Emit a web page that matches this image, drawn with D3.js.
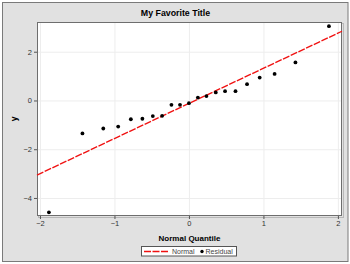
<!DOCTYPE html>
<html>
<head>
<meta charset="utf-8">
<script src="https://cdn.jsdelivr.net/npm/d3@7"></script>
<style>
  body { margin: 0; background: #fff; }
  svg { display: block; font-family: "Liberation Sans", Arial, sans-serif; }
</style>
</head>
<body>
<div id="main"></div>
<script>
// values
var quantiles = [-1.88, -1.43, -1.15, -0.95, -0.78, -0.625, -0.485, -0.36, -0.235, -0.12, 0,
                 0.12, 0.235, 0.36, 0.485, 0.625, 0.78, 0.95, 1.15, 1.43, 1.88];
var residuals = [-4.59, -1.35, -1.15, -1.07, -0.77, -0.75, -0.64, -0.63, -0.18, -0.18, -0.11,
                 0.12, 0.18, 0.33, 0.38, 0.38, 0.67, 0.94, 1.09, 1.56, 3.05];
var normalLine = [[-2.04, -3.06], [2.055, 2.84]];
var xTicks = [-2, -1, 0, 1, 2];
var yTicks = [-4, -2, 0, 2];

var width = 350, height = 264;
var plot = {left: 37, top: 22, right: 342, bottom: 216};

var svg = d3.select('#main').append('svg')
    .attr('width', width).attr('height', height);

// outer frame
svg.append('rect').attr('x', 2.5).attr('y', 2.5)
    .attr('width', 345.5).attr('height', 259)
    .attr('fill', '#e1e1e1').attr('stroke', '#7a7a7a');

var x = d3.scaleLinear().domain([-2.04, 2.055]).range([plot.left, plot.right]);
var y = d3.scaleLinear().domain([-4.74, 3.22]).range([plot.bottom, plot.top]);

// plot area with a soft shadow on the right and bottom
svg.append('rect')
    .attr('x', plot.left + 1.5).attr('y', plot.top + 1.5)
    .attr('width', plot.right - plot.left).attr('height', plot.bottom - plot.top)
    .attr('fill', 'none').attr('stroke', '#b8b8b8');
svg.append('rect')
    .attr('x', plot.left).attr('y', plot.top)
    .attr('width', plot.right - plot.left).attr('height', plot.bottom - plot.top)
    .attr('fill', '#fff');

// grid
svg.append('g').selectAll('line').data(xTicks).enter().append('line')
    .attr('x1', function (d) { return x(d) + 0.5; })
    .attr('x2', function (d) { return x(d) + 0.5; })
    .attr('y1', plot.top).attr('y2', plot.bottom)
    .attr('stroke', '#ededed');
svg.append('g').selectAll('line').data(yTicks).enter().append('line')
    .attr('y1', function (d) { return y(d) + 0.5; })
    .attr('y2', function (d) { return y(d) + 0.5; })
    .attr('x1', plot.left).attr('x2', plot.right)
    .attr('stroke', '#ededed');

svg.append('rect')
    .attr('x', plot.left + 0.5).attr('y', plot.top + 0.5)
    .attr('width', plot.right - plot.left - 1).attr('height', plot.bottom - plot.top - 1)
    .attr('fill', 'none').attr('stroke', '#6e6e6e');

// axes
var xAxis = d3.axisBottom(x).tickValues(xTicks).tickFormat(d3.format('d')).tickSize(3).tickPadding(2);
var yAxis = d3.axisLeft(y).tickValues(yTicks).tickFormat(d3.format('d')).tickSize(3).tickPadding(2);

var gx = svg.append('g')
    .attr('transform', 'translate(0,' + plot.bottom + ')')
    .call(xAxis);
var gy = svg.append('g')
    .attr('transform', 'translate(' + plot.left + ',0)')
    .call(yAxis);
[gx, gy].forEach(function (g) {
    g.select('.domain').remove();
    g.selectAll('.tick line').attr('stroke', '#555');
    g.selectAll('.tick text').attr('fill', '#333')
        .style('font-size', '7.5px').style('font-family', '"Liberation Sans", Arial, sans-serif');
});

// normal line
var lineGen = d3.line()
    .x(function (d) { return x(d[0]); })
    .y(function (d) { return y(d[1]); });
svg.append('path').datum(normalLine)
    .attr('d', lineGen)
    .attr('fill', 'none').attr('stroke', '#f01010')
    .attr('stroke-width', 1.3).attr('stroke-dasharray', '7,1.5');

// residual points
svg.append('g').selectAll('circle').data(quantiles).enter().append('circle')
    .attr('cx', function (d) { return x(d); })
    .attr('cy', function (d, i) { return y(residuals[i]); })
    .attr('r', 1.9).attr('fill', '#000');

// titles
svg.append('text').attr('x', 175.5).attr('y', 15.5)
    .attr('text-anchor', 'middle').style('font-size', '8.8px').style('font-weight', 'bold')
    .text('My Favorite Title');
svg.append('text').attr('x', (plot.left + plot.right) / 2).attr('y', 240.5)
    .attr('text-anchor', 'middle').style('font-size', '8px').style('font-weight', 'bold')
    .text('Normal Quantile');
svg.append('text')
    .attr('transform', 'translate(17,' + ((plot.top + plot.bottom) / 2) + ') rotate(-90)')
    .attr('text-anchor', 'middle').style('font-size', '8.5px').style('font-weight', 'bold')
    .text('y');

// legend
var lg = svg.append('g').attr('transform', 'translate(141,246)');
lg.append('rect').attr('x', 0.5).attr('y', 0.5).attr('width', 95).attr('height', 9.5)
    .attr('fill', '#fff').attr('stroke', '#555');
lg.append('line').attr('x1', 3).attr('x2', 28).attr('y1', 5.5).attr('y2', 5.5)
    .attr('stroke', '#f01010').attr('stroke-width', 1.3).attr('stroke-dasharray', '7,1.5');
lg.append('text').attr('x', 31).attr('y', 8.3).style('font-size', '7px').attr('fill', '#444')
    .text('Normal');
lg.append('circle').attr('cx', 61).attr('cy', 5.5).attr('r', 1.7).attr('fill', '#000');
lg.append('text').attr('x', 64.5).attr('y', 8.3).style('font-size', '7px').attr('fill', '#444')
    .text('Residual');
</script>
</body>
</html>
